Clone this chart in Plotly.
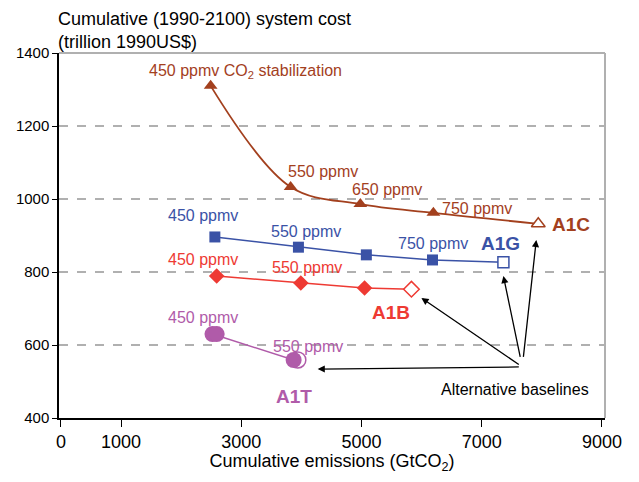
import plotly.graph_objects as go

# Data
a1c_x = [2490, 3820, 4980, 6195]
a1c_y = [1310, 1033, 986, 962]
a1c_base = (7940, 932)

a1g_x = [2560, 3950, 5080, 6180]
a1g_y = [896, 868, 847, 833]
a1g_base = (7360, 827)

a1b_x = [2590, 3990, 5050]
a1b_y = [789, 770, 756]
a1b_base = (5830, 753)

a1t_x = [2520, 3870]
a1t_y = [630, 559]
a1t_extra_x = [2590]          # second overlapping circle at 450 ppmv
a1t_base = (3940, 559)

x_ticks = [0, 1000, 3000, 5000, 7000, 9000]
y_ticks = [400, 600, 800, 1000, 1200, 1400]

C_BROWN = "#A3401E"
C_BLUE = "#3A52A6"
C_RED = "#EE3A33"
C_PURPLE = "#B05BA9"
FONT = "Liberation Sans, Arial, sans-serif"

fig = go.Figure()

def series(xs, ys, base, color, sym, size, shape="linear", width=1.5):
    fig.add_trace(go.Scatter(x=xs + [base[0]], y=ys + [base[1]], mode="lines",
                             line=dict(color=color, width=width, shape=shape, smoothing=1.0),
                             hoverinfo="skip", showlegend=False))
    fig.add_trace(go.Scatter(x=xs, y=ys, mode="markers",
                             marker=dict(symbol=sym, size=size, color=color),
                             showlegend=False))
    fig.add_trace(go.Scatter(x=[base[0]], y=[base[1]], mode="markers",
                             marker=dict(symbol=sym, size=size, color="white",
                                         line=dict(color=color, width=1.5)),
                             showlegend=False))

series(a1c_x, a1c_y, a1c_base, C_BROWN, "triangle-up", 12, shape="spline", width=1.8)
series(a1g_x, a1g_y, a1g_base, C_BLUE, "square", 11)
series(a1b_x, a1b_y, a1b_base, C_RED, "diamond", 12)
# A1T: purple circles
fig.add_trace(go.Scatter(x=a1t_x + [a1t_base[0]], y=a1t_y + [a1t_base[1]], mode="lines",
                         line=dict(color=C_PURPLE, width=1.5), showlegend=False, hoverinfo="skip"))
fig.add_trace(go.Scatter(x=[a1t_base[0]], y=[a1t_base[1]], mode="markers",
                         marker=dict(symbol="circle", size=16, color="white",
                                     line=dict(color=C_PURPLE, width=1.5)), showlegend=False))
fig.add_trace(go.Scatter(x=a1t_x + a1t_extra_x, y=a1t_y + [a1t_y[0]], mode="markers",
                         marker=dict(symbol="circle", size=16, color=C_PURPLE), showlegend=False))

ann = []
def lab(x, y, text, color, size=16, bold=False):
    t = f"<b>{text}</b>" if bold else text
    ann.append(dict(x=x, y=y, text=t, showarrow=False, xref="x", yref="y",
                    font=dict(color=color, size=size, family=FONT)))

# A1C labels
lab(3073, 1348, "450 ppmv CO<sub>2</sub> stabilization", C_BROWN)
lab(4360, 1074, "550 ppmv", C_BROWN)
lab(5430, 1025, "650 ppmv", C_BROWN)
lab(6927, 975, "750 ppmv", C_BROWN)
lab(8488, 929, "A1C", C_BROWN, 19, True)
# A1G labels
lab(2359, 956, "450 ppmv", C_BLUE)
lab(4070, 910, "550 ppmv", C_BLUE)
lab(6196, 879, "750 ppmv", C_BLUE)
lab(7309, 879, "A1G", C_BLUE, 19, True)
# A1B labels
lab(2359, 833, "450 ppmv", C_RED)
lab(4086, 811, "550 ppmv", C_RED)
lab(5498, 690, "A1B", C_RED, 19, True)
# A1T labels
lab(2359, 674, "450 ppmv", C_PURPLE)
lab(4103, 597, "550 ppmv", C_PURPLE)
lab(3870, 460, "A1T", C_PURPLE, 19, True)
lab(7558, 479, "Alternative baselines", "black", 16)

# arrows from a common tail to each baseline marker
tail = (7674, 540)
heads = [(a1c_base[0] - 33, a1c_base[1] - 44),
         (a1g_base[0], a1g_base[1] - 38),
         (a1b_base[0] + 166, a1b_base[1] - 24),
         (a1t_base[0] + 330, a1t_base[1] - 25)]
for hx, hy in heads:
    ann.append(dict(x=hx, y=hy, ax=tail[0], ay=tail[1], xref="x", yref="y",
                    axref="x", ayref="y", showarrow=True, arrowhead=2,
                    arrowsize=1.1, arrowwidth=1.3, arrowcolor="black", text=" "))

# y-axis title (two lines, top-left)
ann.append(dict(x=0, y=1.0, xref="paper", yref="paper", xshift=-3, yshift=-1,
                xanchor="left", yanchor="bottom", showarrow=False, align="left",
                text="Cumulative (1990-2100) system cost<br>(trillion 1990US$)",
                font=dict(size=18, family=FONT, color="black")))

fig.update_layout(
    width=623, height=466,
    margin=dict(l=51, r=26, t=45, b=56),
    paper_bgcolor="white", plot_bgcolor="white",
    font=dict(family=FONT, size=15, color="black"),
    annotations=ann,
    xaxis=dict(range=[-33, 9050], tickvals=x_ticks, ticktext=[str(v) for v in x_ticks],
               automargin=False,
               showgrid=False, zeroline=False, showline=True, linecolor="black",
               linewidth=1.5, ticks="outside", ticklen=7, tickcolor="black", tickwidth=1.3,
               tickfont=dict(size=18),
               title=dict(text="Cumulative emissions (GtCO<sub>2</sub>)", font=dict(size=18),
                          standoff=9)),
    yaxis=dict(range=[400, 1400], tickvals=y_ticks, showgrid=True, gridcolor="#B0B0B0",
               automargin=False,
               griddash="dash", gridwidth=1.5, zeroline=False, showline=True,
               linecolor="black", linewidth=1.5, ticks="outside", ticklen=5,
               tickcolor="black", tickwidth=1.3, tickfont=dict(size=15)),
    shapes=[
        dict(type="line", xref="paper", yref="paper", x0=0, x1=1, y0=1, y1=1,
             line=dict(color="#B0B0B0", width=2)),
        dict(type="line", xref="paper", yref="paper", x0=1, x1=1, y0=0, y1=1,
             line=dict(color="#B0B0B0", width=2)),
    ],
)

fig.write_html("out.html")
